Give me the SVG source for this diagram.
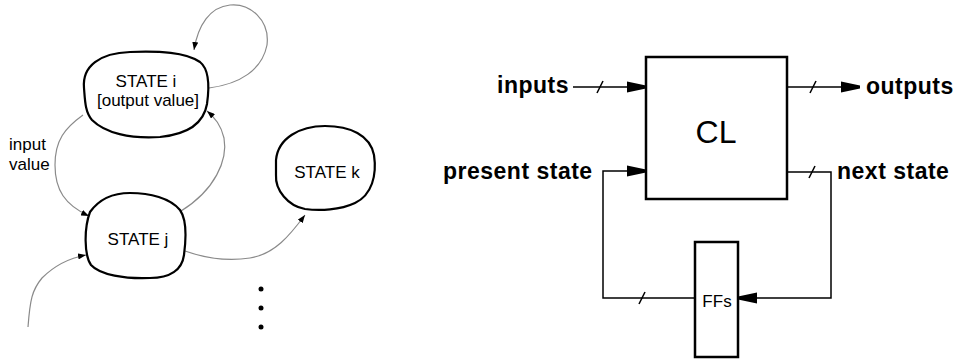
<svg xmlns="http://www.w3.org/2000/svg" width="958" height="360" viewBox="0 0 958 360">
  <style>
    .blob { fill: #fff; stroke: #000; stroke-width: 2.2; stroke-linejoin: round; }
    .st { font-family: "Liberation Sans", Arial, sans-serif; font-size: 17px; fill: #000; text-anchor: middle; }
    .lbl { font-family: "Liberation Sans", Arial, sans-serif; font-size: 17px; fill: #000; }
    .edge { fill: none; stroke: #8a8a8a; stroke-width: 1.2; marker-end: url(#small); }
    .box { fill: #fff; stroke: #000; stroke-width: 2.5; }
    .wire { fill: none; stroke: #000; stroke-width: 1.5; }
    .arrow { marker-end: url(#big); }
    .sig { font-family: "Liberation Sans", Arial, sans-serif; font-size: 23px; font-weight: bold; letter-spacing: 0.5px; fill: #000; }
    .dot { fill: #000; }
  </style>
  <defs>
    <marker id="small" viewBox="0 0 8 6" refX="8" refY="3" markerWidth="8" markerHeight="6" markerUnits="userSpaceOnUse" orient="auto">
      <path d="M0,0 L8,3 L0,6 Z" fill="#000"/>
    </marker>
    <marker id="big" viewBox="0 0 19 12" refX="19" refY="6" markerWidth="19" markerHeight="12" markerUnits="userSpaceOnUse" orient="auto">
      <path d="M0,0.5 L19,4.5 L19,7.5 L0,11.5 Z" fill="#000"/>
    </marker>
  </defs>

  <!-- state transition graph -->
  <g id="connectors-fsm">
    <path class="edge" d="M209,88 C240,84 262,70 267,45 C270,20 250,3 230,5 C210,7 198,25 194,50"/>
    <path class="edge" d="M83,115 C65,128 55,140 55,165 C55,190 65,205 89,216"/>
    <path class="edge" d="M181,211 C215,190 228,160 224,138 C221,125 215,118 207,111"/>
    <path class="edge" d="M185,251 C205,258 225,262 250,258 C275,254 290,235 305,215"/>
    <path class="edge" d="M28,327 C30,300 32,290 42,278 C55,265 70,258 86,255"/>
  </g>

  <g id="state-i">
    <path class="blob" d="M84,88 C82,66 100,53 130,52 C160,51 185,52 200,62 C210,70 209,90 207,104 C204,122 190,134 160,137 C130,139 105,133 92,120 C85,112 85,100 84,88 Z"/>
    <text class="st" x="146" y="87">STATE i</text>
    <text class="st" x="148" y="106">[output value]</text>
  </g>

  <g id="state-j">
    <path class="blob" d="M90,212 C100,198 115,193 130,193 C150,193 170,198 180,210 C187,220 186,240 184,255 C182,270 170,278 150,278 C125,279 100,275 91,265 C84,255 84,228 90,212 Z"/>
    <text class="st" x="138" y="245">STATE j</text>
  </g>

  <g id="state-k">
    <path class="blob" d="M276,160 C278,138 300,126 325,126 C350,126 370,135 374,155 C377,175 372,195 355,203 C340,210 320,211 305,209 C288,206 275,190 276,175 C276,170 276,165 276,160 Z"/>
    <text class="st" x="327" y="178">STATE k</text>
  </g>

  <g id="edge-label">
    <text class="lbl" x="9" y="150">input</text>
    <text class="lbl" x="9" y="170">value</text>
  </g>

  <g id="more-states">
    <circle class="dot" cx="261" cy="289" r="2.5"/>
    <circle class="dot" cx="261" cy="308" r="2.5"/>
    <circle class="dot" cx="261" cy="327" r="2.5"/>
  </g>

  <!-- sequential circuit block diagram -->
  <g id="connectors-circuit">
    <line class="wire arrow" x1="573" y1="87" x2="646" y2="87"/>
    <line class="wire" x1="597" y1="93" x2="603" y2="81"/>
    <line class="wire arrow" x1="787" y1="87" x2="860" y2="87"/>
    <line class="wire" x1="810" y1="93" x2="816" y2="81"/>
    <polyline class="wire arrow" points="695,298 603,298 603,171 646,171"/>
    <line class="wire" x1="639" y1="304" x2="645" y2="292"/>
    <polyline class="wire arrow" points="787,172 831,172 831,298 738,298"/>
    <line class="wire" x1="809" y1="178" x2="815" y2="166"/>
  </g>

  <g id="cl">
    <rect class="box" x="646" y="57" width="141" height="142"/>
    <text x="716" y="143" font-family="'Liberation Sans', Arial, sans-serif" font-size="32" text-anchor="middle">CL</text>
  </g>

  <g id="ffs">
    <rect class="box" x="695" y="242" width="43" height="115"/>
    <text x="717" y="307" font-family="'Liberation Sans', Arial, sans-serif" font-size="17" text-anchor="middle">FFs</text>
  </g>

  <g id="signal-labels">
    <text class="sig" x="497" y="93">inputs</text>
    <text class="sig" x="866" y="94">outputs</text>
    <text class="sig" x="443" y="179">present state</text>
    <text class="sig" x="837" y="179">next state</text>
  </g>
</svg>
